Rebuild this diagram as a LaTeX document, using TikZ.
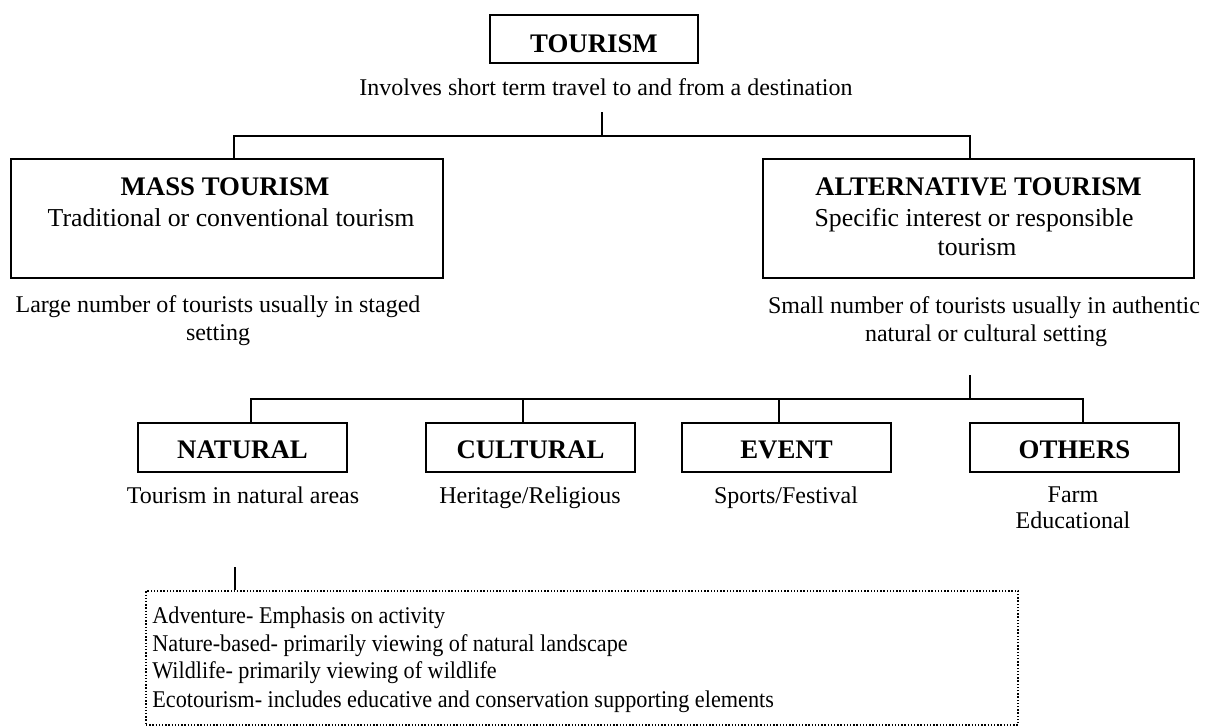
\documentclass[tikz,border=0pt]{standalone}
\usepackage{fontspec}
\setmainfont{Liberation Serif}
\begin{document}
\begin{tikzpicture}[x=0.5pt,y=-0.5pt,
  box/.style={draw, line width=0.8pt, inner sep=0pt},
  dotbox/.style={draw, line width=0.7pt, dash pattern=on 0.7pt off 0.9pt, inner sep=0pt},
  hd/.style={font=\fontsize{13.4}{16}\selectfont\bfseries, anchor=base, inner sep=0pt},
  sub/.style={font=\fontsize{12.9}{15}\selectfont, anchor=base, inner sep=0pt},
  tx/.style={font=\fontsize{12}{14}\selectfont, anchor=base, inner sep=0pt},
  txl/.style={tx, anchor=base west},
  link/.style={line width=0.8pt}]
\useasboundingbox (0,0) rectangle (1206,728);

% top level
\node[box, minimum width=104pt, minimum height=24pt] (tourism) at (594,39) {};
\node[hd] (tourismT) at (594,52) {TOURISM};
\node[tx] (tourismD) at (606,95) {Involves short term travel to and from a destination};

% second level boxes
\node[box, minimum width=216pt, minimum height=59.5pt] (mass) at (227,218.5) {};
\node[hd] (massT) at (225,195) {MASS TOURISM};
\node[sub] (massS) at (231,226) {Traditional or conventional tourism};
\node[tx] (massD1) at (218,312) {Large number of tourists usually in staged};
\node[tx] (massD2) at (218,340) {setting};

\node[box, minimum width=215.5pt, minimum height=59.5pt] (alt) at (978.5,218.5) {};
\node[hd] (altT) at (978.5,195) {ALTERNATIVE TOURISM};
\node[sub] (altS1) at (974,226) {Specific interest or responsible};
\node[sub] (altS2) at (977,255) {tourism};
\node[tx] (altD1) at (984,313) {Small number of tourists usually in authentic};
\node[tx] (altD2) at (986,341) {natural or cultural setting};

% third level boxes
\node[box, minimum width=104.5pt, minimum height=24.5pt] (natural) at (242.5,447.5) {};
\node[hd] (naturalT) at (242.5,458) {NATURAL};
\node[tx] (naturalD) at (243,503) {Tourism in natural areas};

\node[box, minimum width=104.5pt, minimum height=24.5pt] (cultural) at (530.5,447.5) {};
\node[hd] (culturalT) at (530.5,458) {CULTURAL};
\node[tx] (culturalD) at (530,503) {Heritage/Religious};

\node[box, minimum width=104.5pt, minimum height=24.5pt] (event) at (786.5,447.5) {};
\node[hd] (eventT) at (786.5,458) {EVENT};
\node[tx] (eventD) at (786,503) {Sports/Festival};

\node[box, minimum width=104.5pt, minimum height=24.5pt] (others) at (1074.5,447.5) {};
\node[hd] (othersT) at (1074.5,458) {OTHERS};
\node[tx] (othersD1) at (1073,502) {Farm};
\node[tx] (othersD2) at (1073,528) {Educational};

% natural tourism subtypes (narrow-set list)
\node[dotbox, minimum width=436pt, minimum height=67pt] (subtypes) at (582,658) {};
\node[txl] (sub1) at (152,623) {\scalebox{0.925}[1]{Adventure- Emphasis on activity}};
\node[txl] (sub2) at (152,651) {\scalebox{0.925}[1]{Nature-based- primarily viewing of natural landscape}};
\node[txl] (sub3) at (152,678) {\scalebox{0.925}[1]{Wildlife- primarily viewing of wildlife}};
\node[txl] (sub4) at (152,707) {\scalebox{0.925}[1]{Ecotourism- includes educative and conservation supporting elements}};

% connector junctions
\coordinate (stem0) at (602,112);
\coordinate (bus0) at (602,136);
\coordinate (busL) at (234,136);
\coordinate (busR) at (970,136);
\coordinate (stem1) at (970,375);
\coordinate (bus1) at (970,399);
\coordinate (b1n) at (251,399);
\coordinate (b1c) at (523,399);
\coordinate (b1e) at (779,399);
\coordinate (b1o) at (1083,399);
\coordinate (stem2) at (235,567);

\draw[link] (stem0) -- (bus0);
\draw[link] (mass.north -| busL) -- (busL) -- (busR) -- (alt.north -| busR);
\draw[link] (stem1) -- (bus1);
\draw[link] (natural.north -| b1n) -- (b1n) -- (b1o) -- (others.north -| b1o);
\draw[link] (b1c) -- (cultural.north -| b1c);
\draw[link] (b1e) -- (event.north -| b1e);
\draw[link] (stem2) -- (subtypes.north -| stem2);
\end{tikzpicture}
\end{document}
